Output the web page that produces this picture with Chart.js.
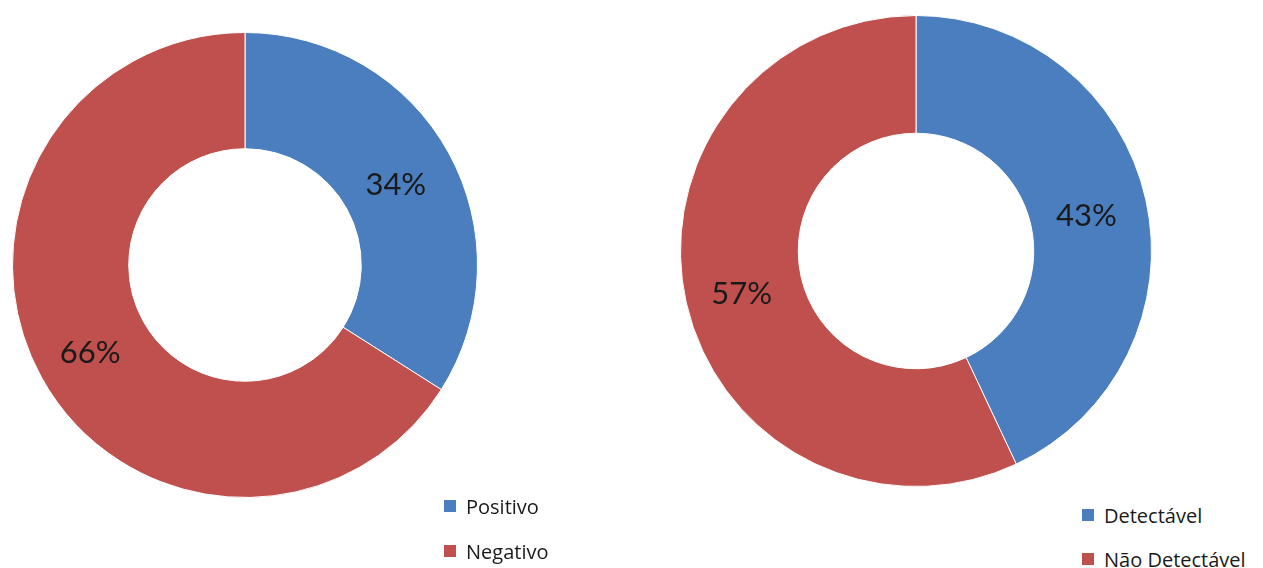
<!DOCTYPE html>
<html>
<head>
<meta charset="utf-8">
<script src="https://cdn.jsdelivr.net/npm/chart.js@4/dist/chart.umd.min.js"></script>
<style>
  html, body { margin:0; padding:0; background:#fff; width:1263px; height:568px; overflow:hidden; }
  .wrap { position:absolute; }
  .legend { position:absolute; font-family: "Open Sans", Lato, sans-serif; font-size:20px; color:#1a1a1a; }
  .legend .item { display:flex; align-items:center; height:20px; white-space:nowrap; }
  .legend .sw { width:12px; height:12px; margin-right:10px; flex:none; }
</style>
</head>
<body>
<div class="wrap" id="w1" style="left:12px; top:32px; width:466px; height:466px;"><canvas id="c1"></canvas></div>
<div class="wrap" id="w2" style="left:680px; top:15px; width:472px; height:472px;"><canvas id="c2"></canvas></div>
<div class="legend" id="l1" style="left:444px; top:496px;"></div>
<div class="legend" id="l2" style="left:1082px; top:505px;"></div>
<script>
const chart1Labels = ['Positivo', 'Negativo'];
const chart1Values = [34, 66];
const chart2Labels = ['Detectável', 'Não Detectável'];
const chart2Values = [43, 57];
const sliceColors = ['#4A7EBF', '#C0504D'];

const pctLabels = {
  id: 'pctLabels',
  afterDatasetsDraw(chart) {
    const ctx = chart.ctx;
    const meta = chart.getDatasetMeta(0);
    const data = chart.data.datasets[0].data;
    ctx.save();
    ctx.font = '31px Lato, "Open Sans", sans-serif';
    ctx.fillStyle = '#1a1a1a';
    ctx.textAlign = 'center';
    ctx.textBaseline = 'middle';
    meta.data.forEach((arc, i) => {
      const p = arc.getCenterPoint();
      ctx.fillText(data[i] + '%', p.x - 2, p.y + 4);
    });
    ctx.restore();
  }
};

function makeChart(id, labels, values) {
  return new Chart(document.getElementById(id), {
    type: 'doughnut',
    data: {
      labels: labels,
      datasets: [{
        data: values,
        backgroundColor: sliceColors,
        borderColor: '#ffffff',
        borderWidth: 1
      }]
    },
    options: {
      responsive: true,
      maintainAspectRatio: false,
      animation: false,
      cutout: '50%',
      layout: { padding: 0 },
      plugins: { legend: { display: false }, tooltip: { enabled: false } }
    },
    plugins: [pctLabels]
  });
}

function makeLegend(id, labels, gap) {
  const el = document.getElementById(id);
  labels.forEach((lab, i) => {
    const item = document.createElement('div');
    item.className = 'item';
    if (i > 0) item.style.marginTop = gap + 'px';
    const sw = document.createElement('span');
    sw.className = 'sw';
    sw.style.background = sliceColors[i];
    const t = document.createElement('span');
    t.textContent = lab;
    item.appendChild(sw);
    item.appendChild(t);
    el.appendChild(item);
  });
}

makeChart('c1', chart1Labels, chart1Values);
makeChart('c2', chart2Labels, chart2Values);
makeLegend('l1', chart1Labels, 25);
makeLegend('l2', chart2Labels, 24);
</script>
</body>
</html>
